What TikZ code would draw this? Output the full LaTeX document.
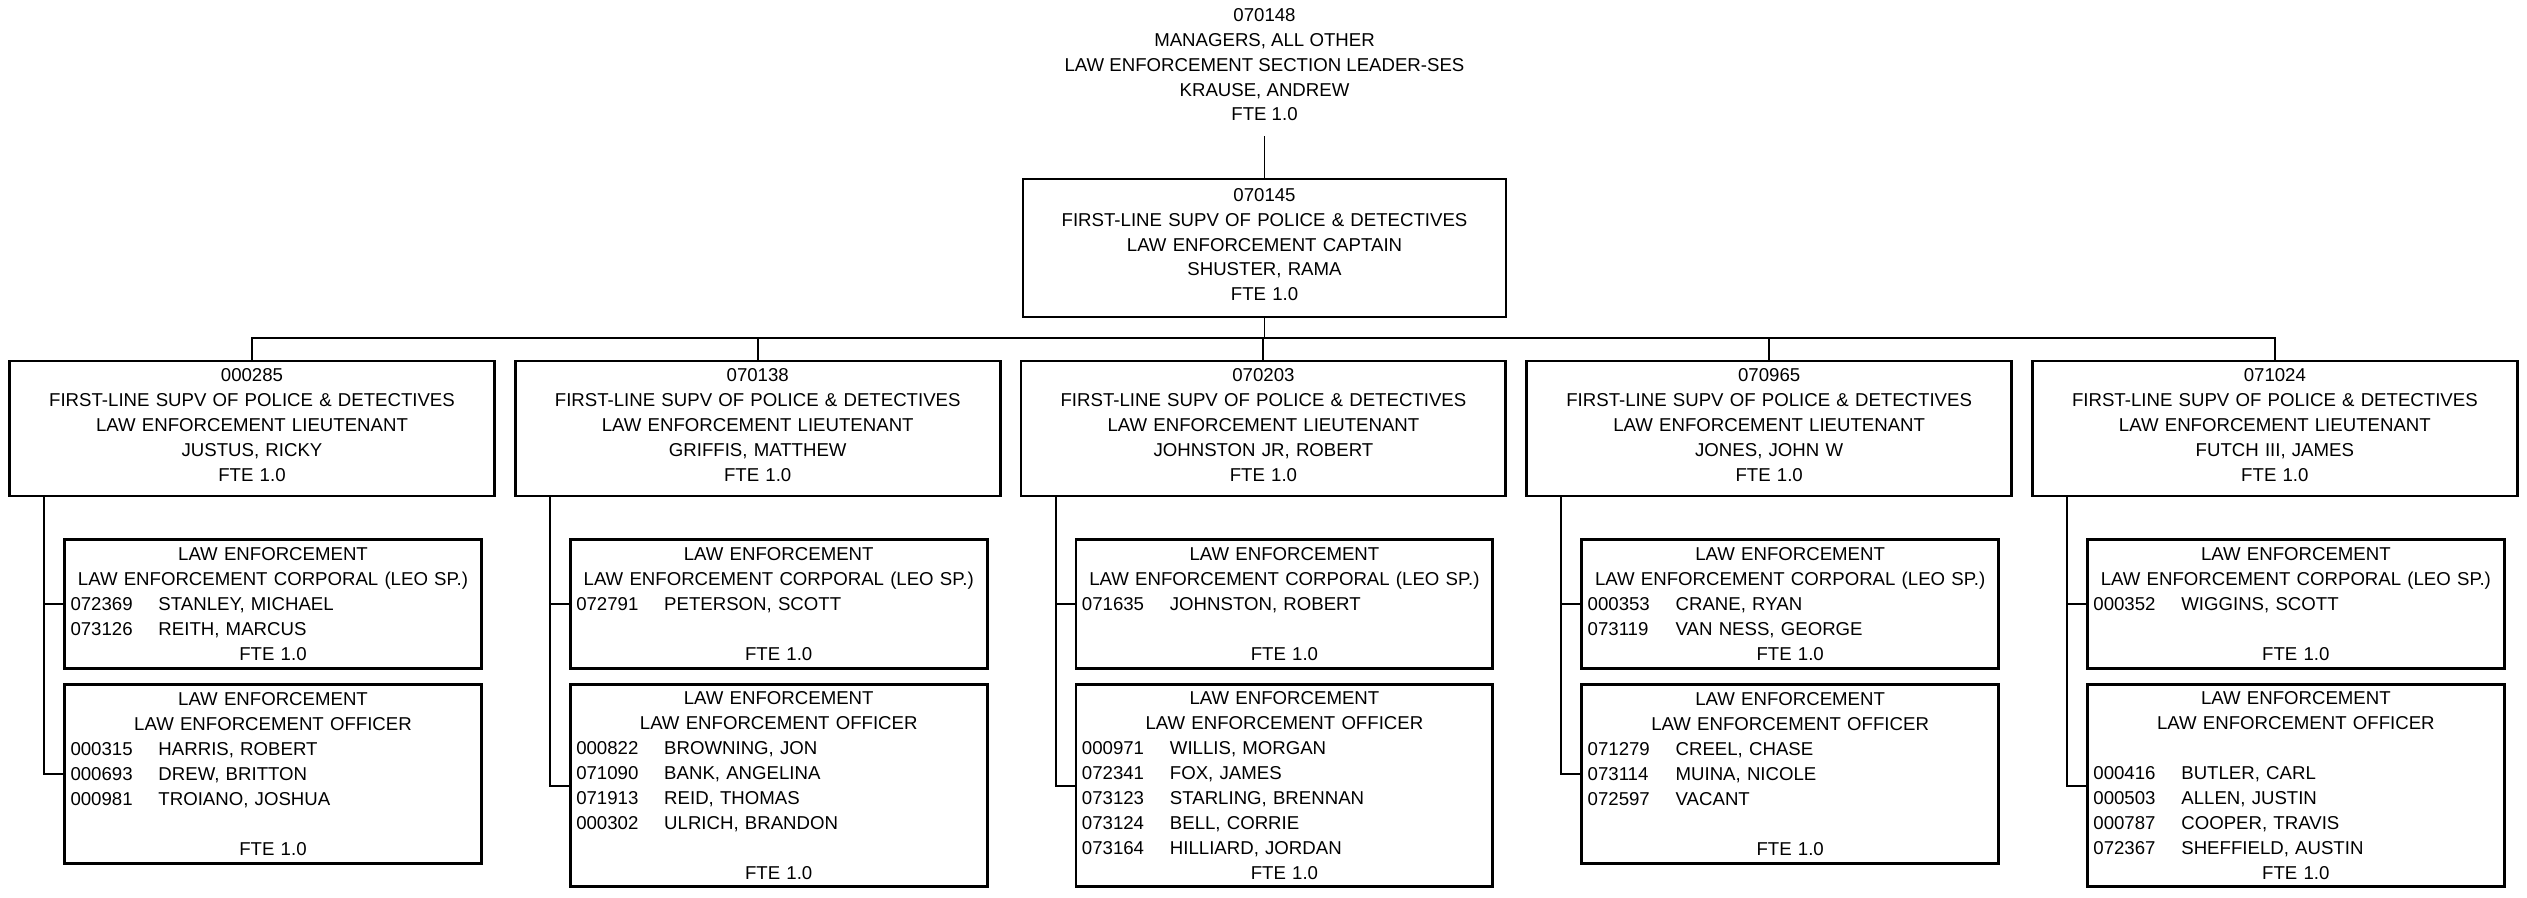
\documentclass[tikz,border=0pt]{standalone}
\usepackage{fontspec}
\setmainfont{Liberation Sans}
\usepackage{tikz}
\usetikzlibrary{positioning}

% one line of a staff list: position number, then name
\newcommand{\emp}[2]{\makebox[\linewidth][l]{\makebox[1.76cm][l]{#1}#2}}
\newcommand{\lift}{\rule[-0.14cm]{0pt}{0pt}}

\begin{document}
\begin{tikzpicture}[
    x=0.02cm, y=-0.02cm,
    every node/.style={font=\fontsize{10.6}{14.2}\selectfont},
    headtext/.style={align=center, inner ysep=0.3cm, font=\fontsize{10.6}{14.08}\selectfont},
    capbox/.style={rectangle, draw, line width=1.6pt, minimum width=9.66cm, minimum height=2.76cm, text width=9.2cm, align=center, font=\fontsize{10.6}{14.08}\selectfont},
    ltbox/.style={rectangle, draw, line width=1.6pt, minimum width=9.7cm, minimum height=2.7cm, text width=9.2cm, align=center},
    unitbox/.style={rectangle, draw, line width=1.6pt, minimum width=8.34cm, text width=8.1cm, inner xsep=0.12cm, align=center},
    link/.style={line width=1.1pt}
]
\useasboundingbox (0,0) rectangle (2527,898);

% Section leader
\node[headtext] (mgr) at (1264.5,65) {070148\\MANAGERS, ALL OTHER\\LAW ENFORCEMENT SECTION LEADER-SES\\KRAUSE, ANDREW\\FTE 1.0};

% Captain
\node[capbox] (capt) at (1264.5,248) {070145\\FIRST-LINE SUPV OF POLICE \& DETECTIVES\\LAW ENFORCEMENT CAPTAIN\\SHUSTER, RAMA\\FTE 1.0\lift};
\coordinate (bus) at (1264.5,338);

% Lieutenants
\node[ltbox] (lt1) at (252,428.5) {000285\\FIRST-LINE SUPV OF POLICE \& DETECTIVES\\LAW ENFORCEMENT LIEUTENANT\\JUSTUS, RICKY\\FTE 1.0\lift};
\node[ltbox, right=0.36cm of lt1] (lt2) {070138\\FIRST-LINE SUPV OF POLICE \& DETECTIVES\\LAW ENFORCEMENT LIEUTENANT\\GRIFFIS, MATTHEW\\FTE 1.0\lift};
\node[ltbox, right=0.36cm of lt2] (lt3) {070203\\FIRST-LINE SUPV OF POLICE \& DETECTIVES\\LAW ENFORCEMENT LIEUTENANT\\JOHNSTON JR, ROBERT\\FTE 1.0\lift};
\node[ltbox, right=0.36cm of lt3] (lt4) {070965\\FIRST-LINE SUPV OF POLICE \& DETECTIVES\\LAW ENFORCEMENT LIEUTENANT\\JONES, JOHN W\\FTE 1.0\lift};
\node[ltbox, right=0.36cm of lt4] (lt5) {071024\\FIRST-LINE SUPV OF POLICE \& DETECTIVES\\LAW ENFORCEMENT LIEUTENANT\\FUTCH III, JAMES\\FTE 1.0\lift};

% Corporals
\node[unitbox, minimum height=2.58cm, below right=0.82cm and 1.1cm of lt1.south west] (cp1) {LAW ENFORCEMENT\\LAW ENFORCEMENT CORPORAL (LEO SP.)\\\emp{072369}{STANLEY, MICHAEL}\\\emp{073126}{REITH, MARCUS}\\FTE 1.0};
\node[unitbox, minimum height=2.58cm, below right=0.82cm and 1.1cm of lt2.south west] (cp2) {LAW ENFORCEMENT\\LAW ENFORCEMENT CORPORAL (LEO SP.)\\\emp{072791}{PETERSON, SCOTT}\\\mbox{}\\FTE 1.0};
\node[unitbox, minimum height=2.58cm, below right=0.82cm and 1.1cm of lt3.south west] (cp3) {LAW ENFORCEMENT\\LAW ENFORCEMENT CORPORAL (LEO SP.)\\\emp{071635}{JOHNSTON, ROBERT}\\\mbox{}\\FTE 1.0};
\node[unitbox, minimum height=2.58cm, below right=0.82cm and 1.1cm of lt4.south west] (cp4) {LAW ENFORCEMENT\\LAW ENFORCEMENT CORPORAL (LEO SP.)\\\emp{000353}{CRANE, RYAN}\\\emp{073119}{VAN NESS, GEORGE}\\FTE 1.0};
\node[unitbox, minimum height=2.58cm, below right=0.82cm and 1.1cm of lt5.south west] (cp5) {LAW ENFORCEMENT\\LAW ENFORCEMENT CORPORAL (LEO SP.)\\\emp{000352}{WIGGINS, SCOTT}\\\mbox{}\\FTE 1.0};

% Officers
\node[unitbox, minimum height=3.58cm, below right=0.26cm and 0cm of cp1.south west] (of1) {LAW ENFORCEMENT\\LAW ENFORCEMENT OFFICER\\\emp{000315}{HARRIS, ROBERT}\\\emp{000693}{DREW, BRITTON}\\\emp{000981}{TROIANO, JOSHUA}\\\mbox{}\\FTE 1.0};
\node[unitbox, minimum height=4.04cm, below right=0.26cm and 0cm of cp2.south west] (of2) {LAW ENFORCEMENT\\LAW ENFORCEMENT OFFICER\\\emp{000822}{BROWNING, JON}\\\emp{071090}{BANK, ANGELINA}\\\emp{071913}{REID, THOMAS}\\\emp{000302}{ULRICH, BRANDON}\\\mbox{}\\FTE 1.0};
\node[unitbox, minimum height=4.04cm, below right=0.26cm and 0cm of cp3.south west] (of3) {LAW ENFORCEMENT\\LAW ENFORCEMENT OFFICER\\\emp{000971}{WILLIS, MORGAN}\\\emp{072341}{FOX, JAMES}\\\emp{073123}{STARLING, BRENNAN}\\\emp{073124}{BELL, CORRIE}\\\emp{073164}{HILLIARD, JORDAN}\\FTE 1.0};
\node[unitbox, minimum height=3.58cm, below right=0.26cm and 0cm of cp4.south west] (of4) {LAW ENFORCEMENT\\LAW ENFORCEMENT OFFICER\\\emp{071279}{CREEL, CHASE}\\\emp{073114}{MUINA, NICOLE}\\\emp{072597}{VACANT}\\\mbox{}\\FTE 1.0};
\node[unitbox, minimum height=4.04cm, below right=0.26cm and 0cm of cp5.south west] (of5) {LAW ENFORCEMENT\\LAW ENFORCEMENT OFFICER\\\mbox{}\\\emp{000416}{BUTLER, CARL}\\\emp{000503}{ALLEN, JUSTIN}\\\emp{000787}{COOPER, TRAVIS}\\\emp{072367}{SHEFFIELD, AUSTIN}\\FTE 1.0};

% Lines
\draw[link] (mgr.south) -- (capt.north);
\draw[link] (capt.south) -- (bus);
\draw[link] (lt1.north) |- (bus) -| (lt5.north);
\draw[link] (lt2.north) -- (lt2.north |- bus);
\draw[link] (lt3.north) -- (lt3.north |- bus);
\draw[link] (lt4.north) -- (lt4.north |- bus);

\draw[link] ([xshift=0.72cm]lt1.south west) |- (cp1.west);
\draw[link] ([xshift=0.72cm]lt1.south west) |- (of1.west);
\draw[link] ([xshift=0.72cm]lt2.south west) |- (cp2.west);
\draw[link] ([xshift=0.72cm]lt2.south west) |- (of2.west);
\draw[link] ([xshift=0.72cm]lt3.south west) |- (cp3.west);
\draw[link] ([xshift=0.72cm]lt3.south west) |- (of3.west);
\draw[link] ([xshift=0.72cm]lt4.south west) |- (cp4.west);
\draw[link] ([xshift=0.72cm]lt4.south west) |- (of4.west);
\draw[link] ([xshift=0.72cm]lt5.south west) |- (cp5.west);
\draw[link] ([xshift=0.72cm]lt5.south west) |- (of5.west);

\end{tikzpicture}
\end{document}
